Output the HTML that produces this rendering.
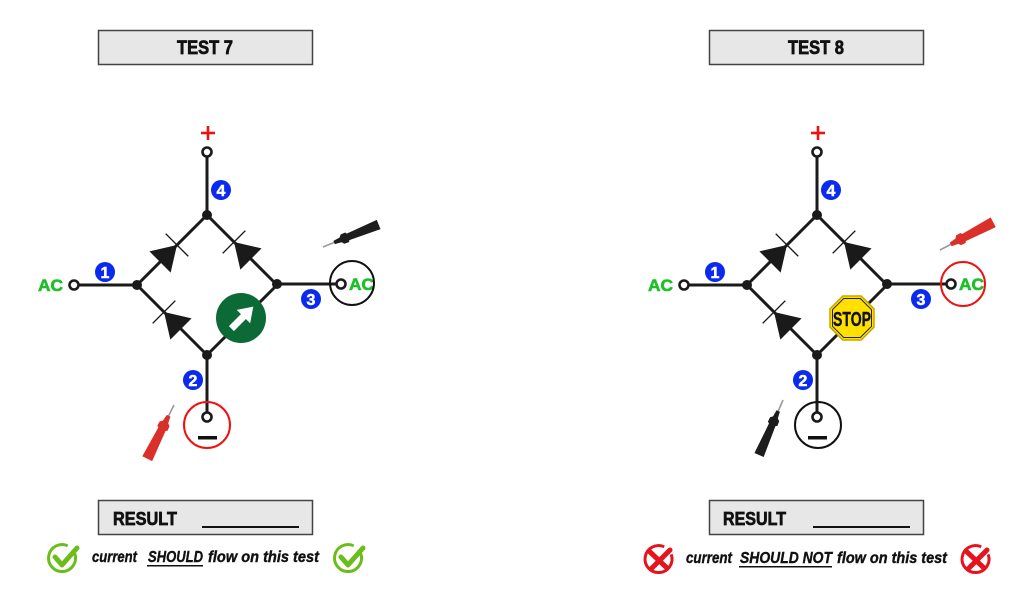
<!DOCTYPE html>
<html><head><meta charset="utf-8"><style>
html,body{margin:0;padding:0;background:#fff;}
svg{display:block;}
text{font-family:"Liberation Sans",sans-serif;font-weight:700;}
</style></head><body>
<svg width="1024" height="595" viewBox="0 0 1024 595" xmlns="http://www.w3.org/2000/svg">
<defs>
  <g id="probeBlack">
    <line x1="0" y1="0" x2="13" y2="0" stroke="#9a9a9a" stroke-width="1.6"/>
    <polygon points="12,-1.8 19,-2.6 21,-5 26,-5.2 27,-3.5 60,-5 60,5 27,3.5 26,5.2 21,5 19,2.6 12,1.8" fill="#1d1d1d"/>
  </g>
  <g id="probeRed">
    <line x1="0" y1="0" x2="13" y2="0" stroke="#9a9a9a" stroke-width="1.6"/>
    <polygon points="12,-2 19,-3 21,-5.5 26,-5.7 27,-4 60,-5.5 60,5.5 27,4 26,5.7 21,5.5 19,3 12,2" fill="#d9302a"/>
  </g>
  <g id="diode">
    <polygon points="0,0 -24,-15 -24,15" fill="#1a1a1a"/>
    <line x1="0" y1="-16" x2="0" y2="16" stroke="#1a1a1a" stroke-width="1.4"/>
  </g>
  <g id="bridge">
    <g stroke="#1a1a1a" stroke-width="3" fill="none">
      <line x1="207" y1="157" x2="207" y2="215"/>
      <line x1="207" y1="215" x2="137" y2="285"/>
      <line x1="207" y1="215" x2="277" y2="285"/>
      <line x1="137" y1="285" x2="207" y2="355"/>
      <line x1="277" y1="285" x2="207" y2="355"/>
      <line x1="79" y1="285" x2="137" y2="285"/>
      <line x1="277" y1="284" x2="336" y2="284"/>
      <line x1="207" y1="355" x2="207" y2="412"/>
    </g>
    <use href="#diode" transform="translate(177,245) rotate(-45)"/>
    <use href="#diode" transform="translate(234,242) rotate(-135)"/>
    <use href="#diode" transform="translate(164,312) rotate(-135)"/>
    <g fill="#1a1a1a">
      <circle cx="207" cy="215" r="5"/>
      <circle cx="137" cy="285" r="5"/>
      <circle cx="277" cy="284" r="5"/>
      <circle cx="207" cy="355" r="5"/>
    </g>
    <g fill="#fff" stroke="#1a1a1a" stroke-width="2.6">
      <circle cx="207" cy="152" r="4.5"/>
      <circle cx="74" cy="285" r="4.5"/>
      <circle cx="341" cy="284" r="4.5"/>
      <circle cx="207" cy="417" r="4.5"/>
    </g>
    <g stroke="#ee1111" stroke-width="2.6">
      <line x1="201" y1="133" x2="215" y2="133"/>
      <line x1="208" y1="126" x2="208" y2="140"/>
    </g>
    <rect x="198" y="436" width="19" height="3.5" fill="#111"/>
    <text x="38" y="291" font-size="17" fill="#1fbf2a" stroke="#1fbf2a" stroke-width="0.6" textLength="25" lengthAdjust="spacingAndGlyphs">AC</text>
    <text x="349" y="290" font-size="17" fill="#1fbf2a" stroke="#1fbf2a" stroke-width="0.6" textLength="25" lengthAdjust="spacingAndGlyphs">AC</text>
    <g fill="#0a2af0">
      <circle cx="221" cy="190" r="10"/>
      <circle cx="105" cy="272" r="10"/>
      <circle cx="311" cy="299" r="10"/>
      <circle cx="193" cy="380" r="10"/>
    </g>
    <g fill="#fff" stroke="#fff" stroke-width="0.5" font-size="16" text-anchor="middle">
      <text x="221" y="196">4</text>
      <text x="105" y="278">1</text>
      <text x="311" y="305">3</text>
      <text x="193" y="386">2</text>
    </g>
  </g>
  <g id="check">
    <path d="M 74.7 553.4 A 13.5 13.5 0 1 1 67.7 545.8" fill="none" stroke="#6cbd1c" stroke-width="3"/>
    <polyline points="55,557 62,565 77,548" fill="none" stroke="#6cbd1c" stroke-width="5" stroke-linecap="round" stroke-linejoin="round"/>
  </g>
  <g id="cross">
    <path d="M 671.2 554.4 A 13.5 13.5 0 1 1 664.2 546.8" fill="none" stroke="#e5141c" stroke-width="3"/>
    <line x1="649" y1="551" x2="667" y2="568" stroke="#e5141c" stroke-width="5" stroke-linecap="round"/>
    <line x1="670" y1="550" x2="652" y2="568" stroke="#e5141c" stroke-width="5" stroke-linecap="round"/>
  </g>
</defs>

<rect x="98.5" y="30.5" width="214" height="34" fill="#e7e7e7" stroke="#444" stroke-width="1.5"/>
<text x="177" y="54" font-size="19" fill="#111" stroke="#111" stroke-width="0.7" textLength="56" lengthAdjust="spacingAndGlyphs">TEST 7</text>

<use href="#bridge"/>
<circle cx="241" cy="318" r="25" fill="#0b6a36"/>
<g transform="translate(242,318) rotate(-45)" fill="#fff">
  <rect x="-15" y="-3.5" width="18" height="7"/>
  <polygon points="2,-9.5 16,0 2,9.5"/>
</g>
<circle cx="352" cy="283" r="22" fill="none" stroke="#111" stroke-width="2"/>
<circle cx="207" cy="425" r="23" fill="none" stroke="#ee1111" stroke-width="2"/>
<use href="#probeBlack" transform="translate(323,247) rotate(-22)"/>
<use href="#probeRed" transform="translate(174,405) rotate(116.5)"/>

<rect x="98.5" y="500.5" width="214" height="34" fill="#e7e7e7" stroke="#444" stroke-width="1.5"/>
<text x="113" y="525" font-size="18" fill="#111" stroke="#111" stroke-width="0.7" textLength="64" lengthAdjust="spacingAndGlyphs">RESULT</text>
<rect x="202" y="526" width="97" height="2" fill="#111"/>

<use href="#check"/>
<use href="#check" transform="translate(286,0)"/>
<g font-size="16" font-style="italic" fill="#111" stroke="#111" stroke-width="0.4">
  <text x="92" y="562" textLength="45" lengthAdjust="spacingAndGlyphs">current</text>
  <text x="148" y="562" textLength="55" lengthAdjust="spacingAndGlyphs">SHOULD</text>
  <text x="208" y="562" textLength="111" lengthAdjust="spacingAndGlyphs">flow on this test</text>
</g>
<rect x="147" y="565" width="56" height="1.5" fill="#111"/>

<rect x="709.5" y="30.5" width="214" height="34" fill="#e7e7e7" stroke="#444" stroke-width="1.5"/>
<text x="788" y="54" font-size="19" fill="#111" stroke="#111" stroke-width="0.7" textLength="56" lengthAdjust="spacingAndGlyphs">TEST 8</text>

<use href="#bridge" transform="translate(610,0)"/>
<polygon points="861.2,296 874,308.8 874,327.2 861.2,340 842.8,340 830,327.2 830,308.8 842.8,296" fill="#ffe000" stroke="#c8a600" stroke-width="1.5"/>
<polygon points="860.3,298.5 871.5,309.7 871.5,326.3 860.3,337.5 843.7,337.5 832.5,326.3 832.5,309.7 843.7,298.5" fill="none" stroke="#222" stroke-width="1"/>
<text x="833" y="326" font-size="20" fill="#111" stroke="#111" stroke-width="0.4" textLength="38" lengthAdjust="spacingAndGlyphs">STOP</text>
<circle cx="963" cy="284" r="22" fill="none" stroke="#ee1111" stroke-width="2"/>
<circle cx="818" cy="425" r="23" fill="none" stroke="#111" stroke-width="2"/>
<use href="#probeRed" transform="translate(940,250) rotate(-27.5)"/>
<use href="#probeBlack" transform="translate(783,400) rotate(113.5)"/>

<rect x="709.5" y="500.5" width="214" height="34" fill="#e7e7e7" stroke="#444" stroke-width="1.5"/>
<text x="723" y="525" font-size="18" fill="#111" stroke="#111" stroke-width="0.7" textLength="63" lengthAdjust="spacingAndGlyphs">RESULT</text>
<rect x="813" y="526" width="97" height="2" fill="#111"/>

<use href="#cross"/>
<use href="#cross" transform="translate(317,0)"/>
<g font-size="16" font-style="italic" fill="#111" stroke="#111" stroke-width="0.4">
  <text x="686" y="563" textLength="46" lengthAdjust="spacingAndGlyphs">current</text>
  <text x="740" y="563" textLength="92" lengthAdjust="spacingAndGlyphs">SHOULD NOT</text>
  <text x="837" y="563" textLength="110" lengthAdjust="spacingAndGlyphs">flow on this test</text>
</g>
<rect x="739" y="566" width="93" height="1.5" fill="#111"/>
</svg>
</body></html>
